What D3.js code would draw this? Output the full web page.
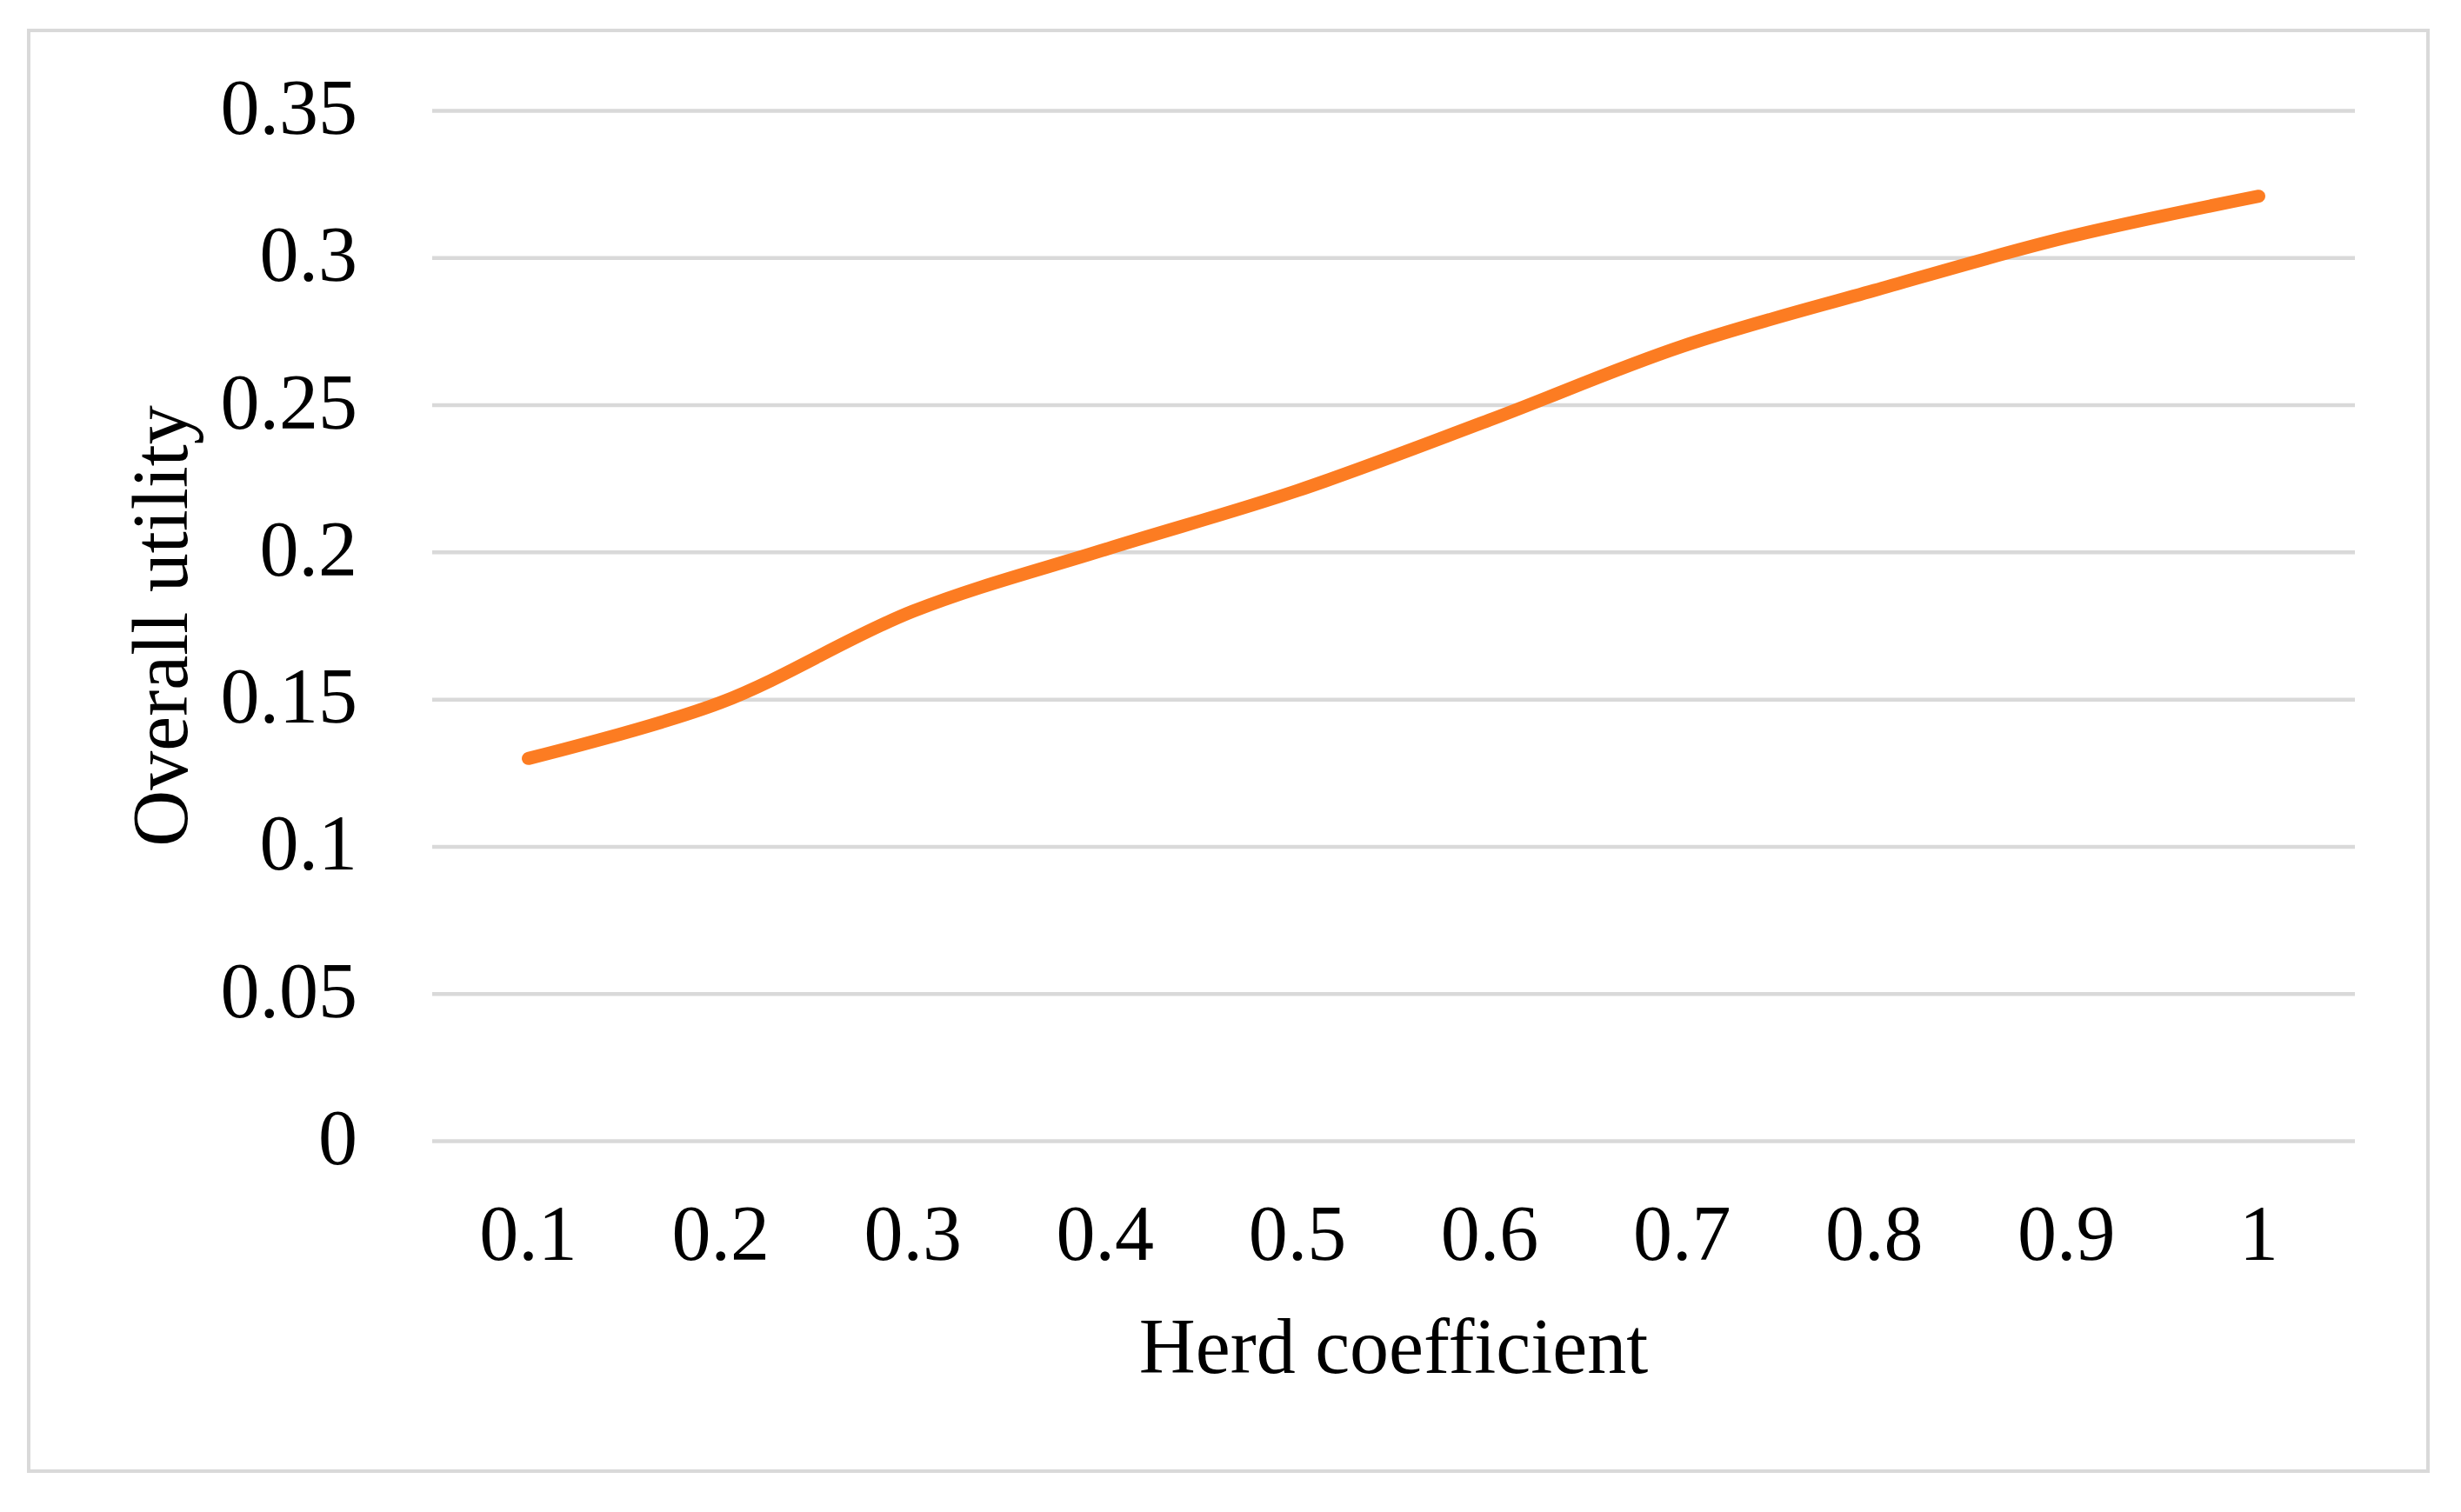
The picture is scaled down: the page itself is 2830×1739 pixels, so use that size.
<!DOCTYPE html>
<html>
<head>
<meta charset="utf-8">
<script src="https://cdn.jsdelivr.net/npm/d3@7"></script>
<style>
  html, body { margin: 0; padding: 0; background: #fff; }
  svg { display: block; }
  text { font-family: "Liberation Serif", "Times New Roman", serif; fill: #000; }
</style>
</head>
<body>
<svg id="chart" width="2830" height="1739"></svg>
<script>
const categories = ["0.1", "0.2", "0.3", "0.4", "0.5", "0.6", "0.7", "0.8", "0.9", "1"];
const values = [0.13, 0.149, 0.18, 0.201, 0.221, 0.245, 0.27, 0.289, 0.307, 0.321];
const yTicks = [0, 0.05, 0.1, 0.15, 0.2, 0.25, 0.3, 0.35];
const yTickLabels = ["0", "0.05", "0.1", "0.15", "0.2", "0.25", "0.3", "0.35"];
const xTitle = "Herd coefficient";
const yTitle = "Overall utility";

const W = 2830, H = 1739;
const plot = { left: 497, right: 2708, top: 127.5, bottom: 1312.5 };
const fontSize = 90;

const svg = d3.select("#chart");
svg.append("rect").attr("width", W).attr("height", H).attr("fill", "#fff");

// outer border
svg.append("rect")
  .attr("x", 33).attr("y", 35)
  .attr("width", 2792 - 33).attr("height", 1692 - 35)
  .attr("fill", "none").attr("stroke", "#D9D9D9").attr("stroke-width", 4);

const x = d3.scaleBand().domain(categories).range([plot.left, plot.right]).padding(0);
const y = d3.scaleLinear().domain([0, 0.35]).range([plot.bottom, plot.top]);

// gridlines
svg.append("g").selectAll("line").data(yTicks).join("line")
  .attr("x1", plot.left).attr("x2", plot.right)
  .attr("y1", d => y(d)).attr("y2", d => y(d))
  .attr("stroke", "#D9D9D9").attr("stroke-width", 4.5);

// y axis labels
const yAxis = d3.axisLeft(y).tickValues(yTicks).tickSize(0).tickPadding(0)
  .tickFormat((d, i) => yTickLabels[i]);
const gy = svg.append("g").attr("transform", `translate(${411},0)`).call(yAxis);
gy.select(".domain").remove();
gy.selectAll("text")
  .attr("font-size", fontSize)
  .attr("font-family", "Liberation Serif, Times New Roman, serif")
  .attr("fill", "#000")
  .attr("x", 0)
  .attr("dy", null)
  .attr("y", 26)
  .attr("text-anchor", "end");

// x axis labels
const xAxis = d3.axisBottom(x).tickSize(0).tickPadding(0);
const gx = svg.append("g").attr("transform", `translate(0,${1449})`).call(xAxis);
gx.select(".domain").remove();
gx.selectAll("text")
  .attr("font-size", fontSize)
  .attr("font-family", "Liberation Serif, Times New Roman, serif")
  .attr("fill", "#000")
  .attr("y", 0)
  .attr("dy", null)
  .attr("text-anchor", "middle");

// line
const line = d3.line()
  .x((d, i) => x(categories[i]) + x.bandwidth() / 2)
  .y(d => y(d))
  .curve(d3.curveCatmullRom.alpha(0.5));

svg.append("path")
  .datum(values)
  .attr("d", line)
  .attr("fill", "none")
  .attr("stroke", "#FC7C22")
  .attr("stroke-width", 15)
  .attr("stroke-linecap", "round")
  .attr("stroke-linejoin", "round");

// axis titles
svg.append("text")
  .attr("x", (plot.left + plot.right) / 2)
  .attr("y", 1579)
  .attr("text-anchor", "middle")
  .attr("font-size", fontSize)
  .text(xTitle);

svg.append("text")
  .attr("transform", `translate(${215},${720}) rotate(-90)`)
  .attr("text-anchor", "middle")
  .attr("font-size", fontSize)
  .text(yTitle);
</script>
</body>
</html>
